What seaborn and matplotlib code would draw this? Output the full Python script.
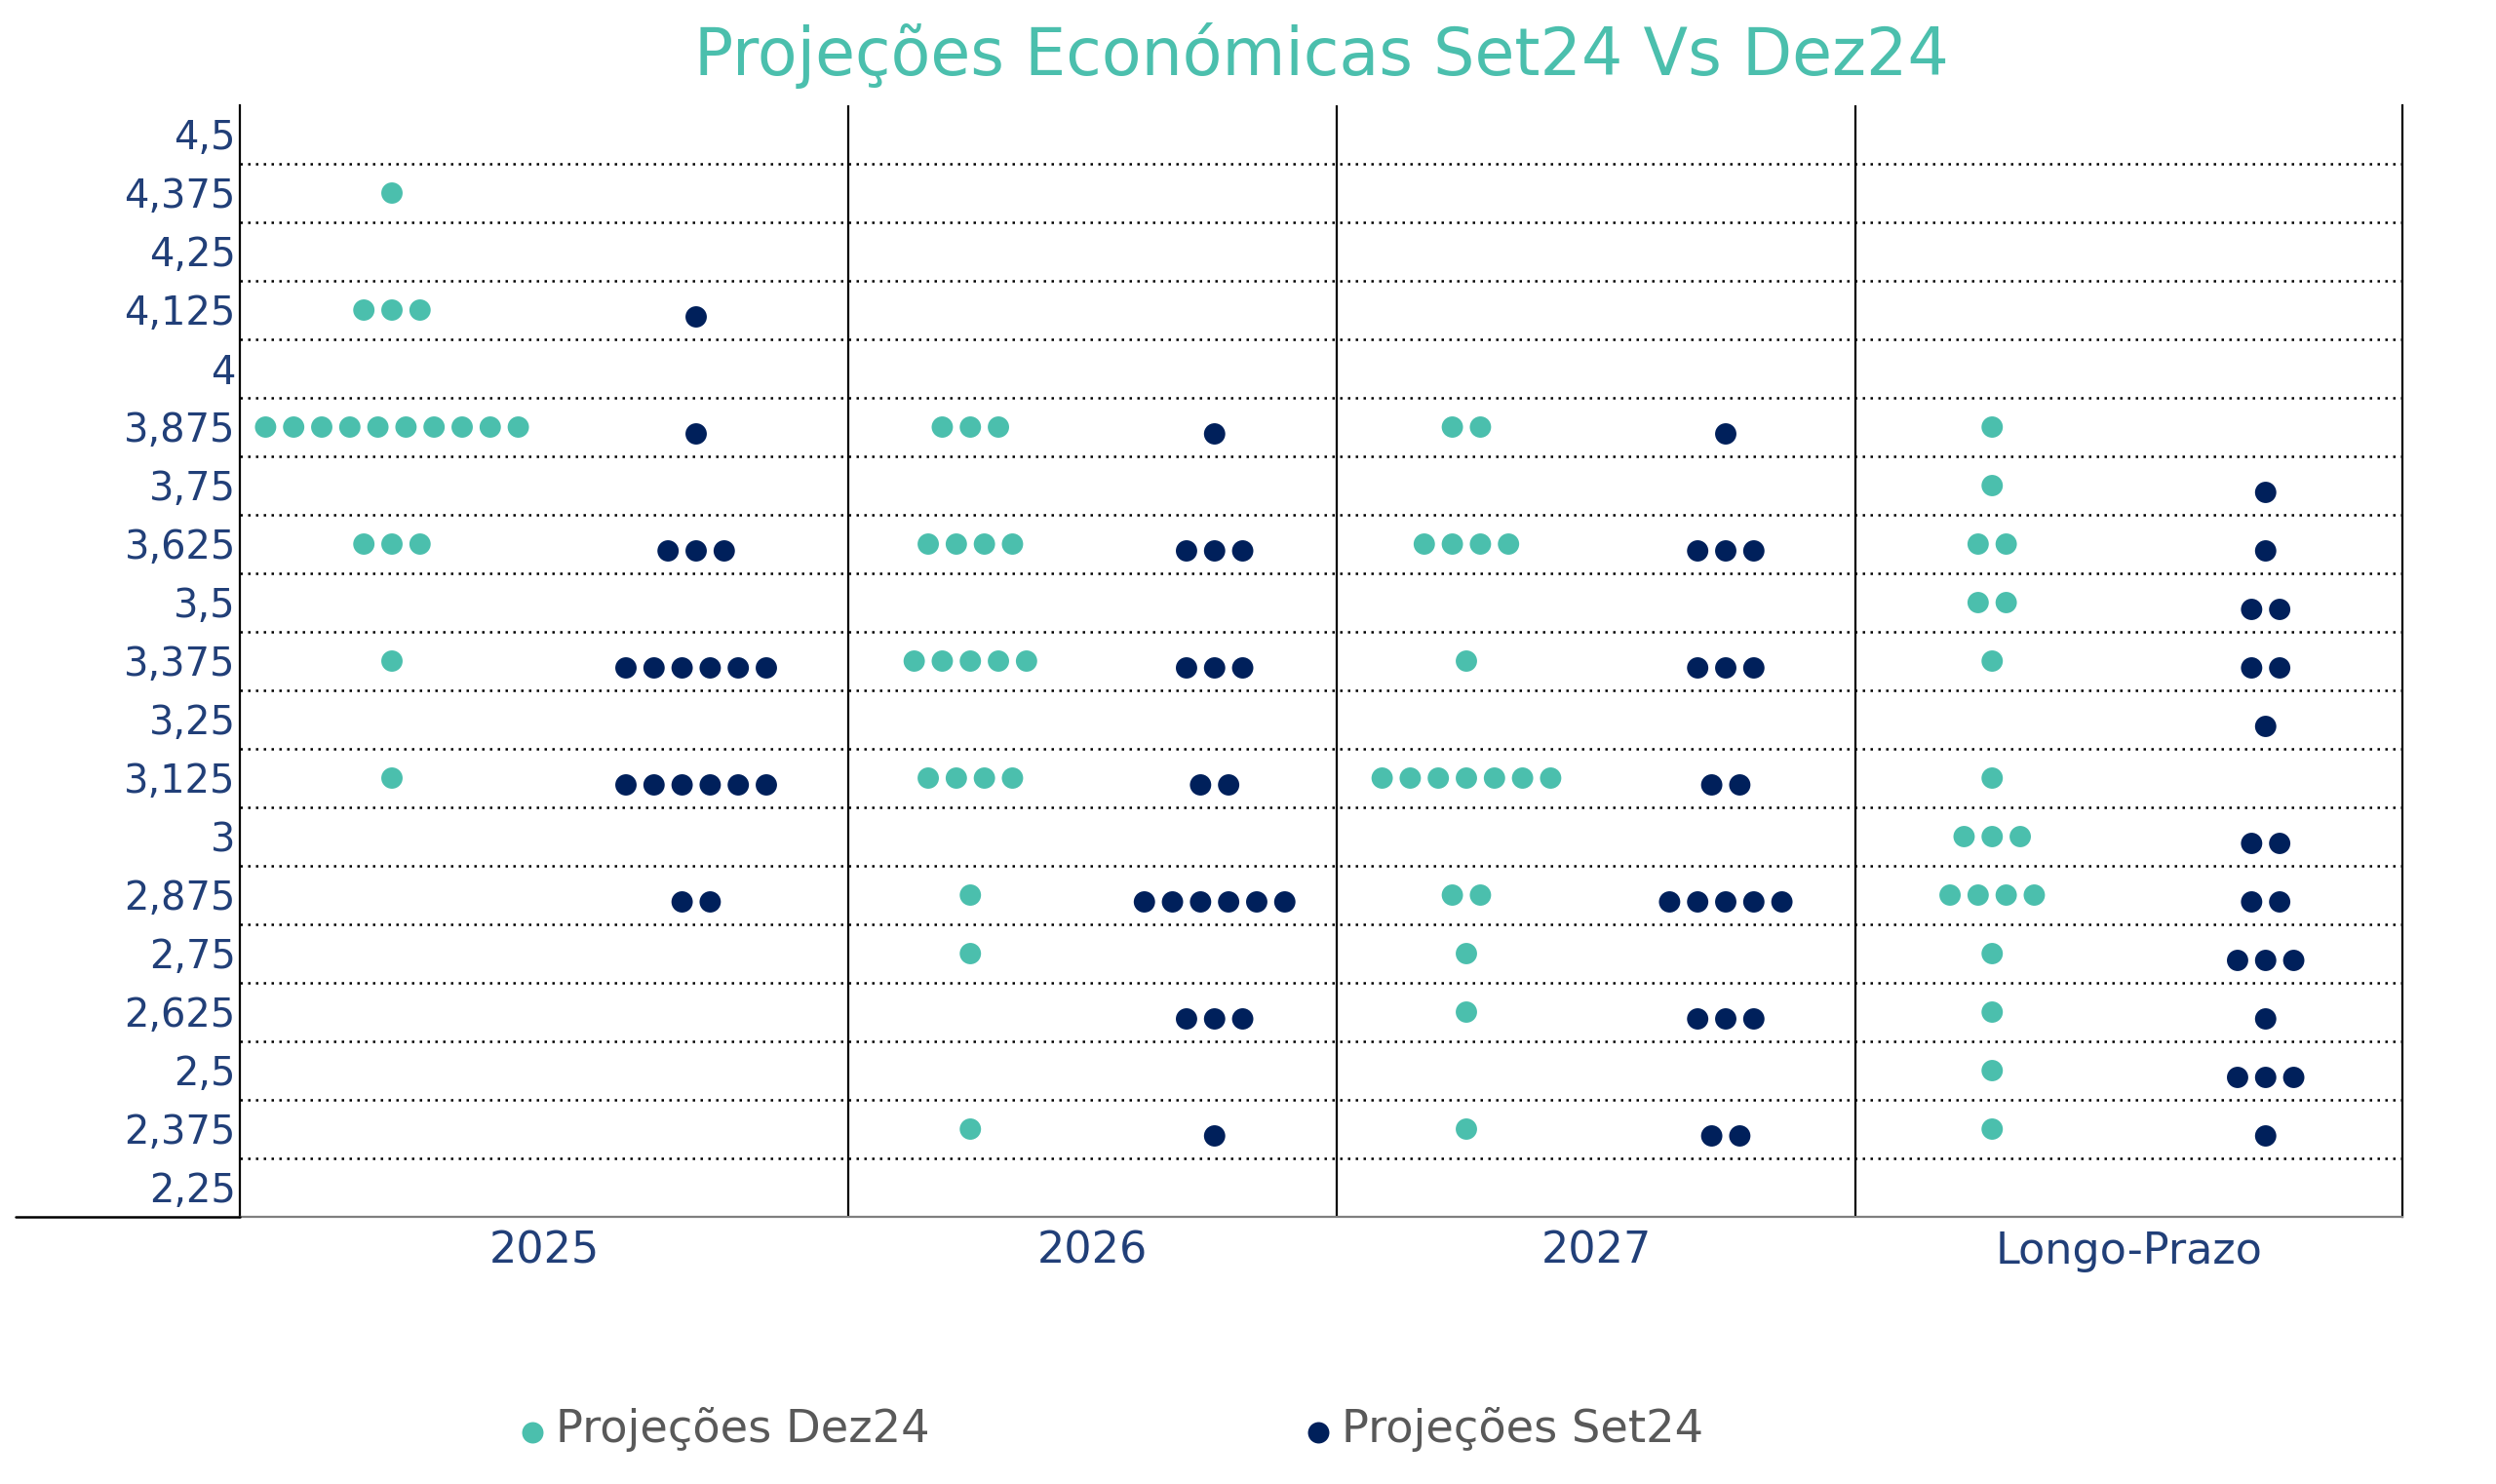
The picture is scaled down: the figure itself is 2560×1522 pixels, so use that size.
import numpy as np
import pandas as pd
import matplotlib
matplotlib.use("Agg")
import matplotlib.pyplot as plt
import seaborn as sns
from matplotlib.transforms import ScaledTranslation
from matplotlib.lines import Line2D
from matplotlib.ticker import FixedLocator

# ---------------- data ----------------
categories = ["2025", "2026", "2027", "Longo-Prazo"]
series_names = ["Projeções Dez24", "Projeções Set24"]
levels = [4.375, 4.25, 4.125, 4.0, 3.875, 3.75, 3.625, 3.5, 3.375,
          3.25, 3.125, 3.0, 2.875, 2.75, 2.625, 2.5, 2.375]
# number of dots per level (aligned with `levels`)
dez24_2025 = [1, 0, 3, 0, 10, 0, 3, 0, 1, 0, 1, 0, 0, 0, 0, 0, 0]
set24_2025 = [0, 0, 1, 0, 1, 0, 3, 0, 6, 0, 6, 0, 2, 0, 0, 0, 0]
dez24_2026 = [0, 0, 0, 0, 3, 0, 4, 0, 5, 0, 4, 0, 1, 1, 0, 0, 1]
set24_2026 = [0, 0, 0, 0, 1, 0, 3, 0, 3, 0, 2, 0, 6, 0, 3, 0, 1]
dez24_2027 = [0, 0, 0, 0, 2, 0, 4, 0, 1, 0, 7, 0, 2, 1, 1, 0, 1]
set24_2027 = [0, 0, 0, 0, 1, 0, 3, 0, 3, 0, 2, 0, 5, 0, 3, 0, 2]
dez24_longo = [0, 0, 0, 0, 1, 1, 2, 2, 1, 0, 1, 3, 4, 1, 1, 1, 1]
set24_longo = [0, 0, 0, 0, 0, 1, 1, 2, 2, 1, 0, 2, 2, 3, 1, 3, 1]
y_ticks = [2.25, 2.375, 2.5, 2.625, 2.75, 2.875, 3.0, 3.125, 3.25, 3.375,
           3.5, 3.625, 3.75, 3.875, 4.0, 4.125, 4.25, 4.375, 4.5]
y_tick_labels = ["2,25", "2,375", "2,5", "2,625", "2,75", "2,875", "3", "3,125",
                 "3,25", "3,375", "3,5", "3,625", "3,75", "3,875", "4", "4,125",
                 "4,25", "4,375", "4,5"]

# ---------------- layout / style ----------------
W, H, DPI = 2560, 1522, 200
group_widths = [624, 501, 532, 561]          # relative widths of the 4 panels
sub_pos = [0.25, 0.75]                        # Dez24 / Set24 sub-column
dot_step = 28.8                               # horizontal dot spacing (x units)
teal = "#4BBFAD"
navy = "#00205B"
label_col = "#213F78"
main_font = ["DejaVu Sans"]

sns.set_theme(style="white")
plt.rcParams["font.family"] = main_font

counts = {
    ("2025", series_names[0]): dez24_2025, ("2025", series_names[1]): set24_2025,
    ("2026", series_names[0]): dez24_2026, ("2026", series_names[1]): set24_2026,
    ("2027", series_names[0]): dez24_2027, ("2027", series_names[1]): set24_2027,
    ("Longo-Prazo", series_names[0]): dez24_longo,
    ("Longo-Prazo", series_names[1]): set24_longo,
}

edges = np.concatenate([[0], np.cumsum(group_widths)])
rows = []
for gi, cat in enumerate(categories):
    for si, sname in enumerate(series_names):
        cx = edges[gi] + sub_pos[si] * group_widths[gi]
        for lv, n in zip(levels, counts[(cat, sname)]):
            for k in range(n):
                rows.append({"x": cx + (k - (n - 1) / 2) * dot_step,
                             "y": lv, "Série": sname})
df = pd.DataFrame(rows)

fig = plt.figure(figsize=(W / DPI, H / DPI), dpi=DPI)
ax = fig.add_axes([246 / W, 1 - 1248 / H, (2464 - 246) / W, (1248 - 108) / H])

palette = {series_names[0]: teal, series_names[1]: navy}
for sname in series_names:
    sns.scatterplot(data=df[df["Série"] == sname], x="x", y="y", hue="Série",
                    palette=palette, s=62, linewidth=0, legend=False, ax=ax,
                    zorder=3)
    if sname == series_names[1]:
        coll = ax.collections[-1]
        coll.set_offset_transform(
            ax.transData + ScaledTranslation(0, -7 / DPI, fig.dpi_scale_trans))

ax.set_xlim(edges[0], edges[-1])
ax.set_ylim(2.1875, 4.5625)
ax.set_xlabel("")
ax.set_ylabel("")

# y axis
ax.set_yticks(y_ticks)
ax.set_yticklabels(y_tick_labels)
ax.yaxis.set_minor_locator(FixedLocator([v - 0.0625 for v in y_ticks[1:]]))
ax.tick_params(axis="y", which="both", length=0, pad=1.5,
               labelsize=14.4, labelcolor=label_col)
ax.grid(False)
ax.grid(which="minor", axis="y", color="black", linewidth=0.9,
        linestyle=(0, (1, 2.2)))

# x axis: boundary ticks + category labels
ax.set_xticks(edges)
ax.set_xticklabels([""] * len(edges))
ax.set_xticks([(edges[i] + edges[i + 1]) / 2 for i in range(len(categories))],
              minor=True)
ax.set_xticklabels(categories, minor=True)
ax.tick_params(axis="x", which="major", length=21.6, width=0.8,
               color="#7F7F7F", direction="out")
ax.tick_params(axis="x", which="minor", length=0, pad=5,
               labelsize=16.0, labelcolor=label_col)

ax.spines["top"].set_visible(False)
ax.spines["left"].set_color("black")
ax.spines["left"].set_linewidth(0.8)
ax.spines["right"].set_color("black")
ax.spines["right"].set_linewidth(0.8)
ax.spines["bottom"].set_color("#7F7F7F")
ax.spines["bottom"].set_linewidth(0.8)
for e in edges[1:-1]:
    ax.axvline(e, color="black", linewidth=0.8, zorder=2)

# black extension of the base line under the y labels
fig.add_artist(Line2D([16 / W, 246 / W], [1 - 1248 / H, 1 - 1248 / H],
                      transform=fig.transFigure, color="black", linewidth=0.9))

# title
fig.text((246 + 2464) / 2 / W, 1 - 57 / H, "Projeções Económicas Set24 Vs Dez24",
         ha="center", va="center", fontsize=24, color=teal, family=main_font)

# legend
handles = [Line2D([], [], marker="o", linestyle="none", markersize=7.9,
                  markerfacecolor=c, markeredgewidth=0, color=c)
           for c in (teal, navy)]
leg = fig.legend(handles, series_names, loc="center", ncol=2,
                 bbox_to_anchor=(1140 / W, 1 - 1466 / H), frameon=False,
                 handlelength=0.55, handletextpad=0.25, columnspacing=8.3,
                 prop={"family": ["DejaVu Sans"], "size": 16.7},
                 labelcolor="#595959")
for h in leg.legend_handles:
    h.set_transform(h.get_transform()
                    + ScaledTranslation(0, -6 / DPI, fig.dpi_scale_trans))

fig.savefig("out.png", dpi=DPI)
